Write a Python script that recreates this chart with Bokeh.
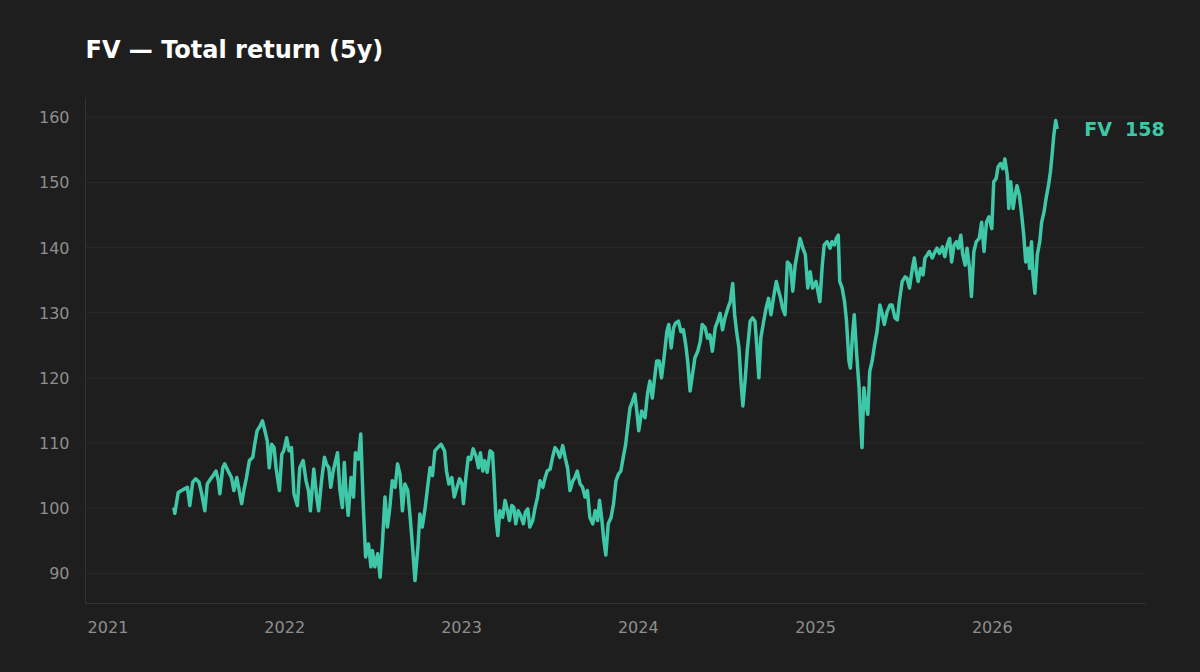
import pandas as pd
from bokeh.plotting import figure
from bokeh.models import Range1d, FixedTicker, DatetimeTickFormatter, Label, ColumnDataSource
from bokeh.embed import file_html
from bokeh.resources import INLINE

series_name = "FV"
title_text = "FV — Total return (5y)"

dates = [
    "2021-05-17", "2021-05-19", "2021-05-26", "2021-06-02", "2021-06-09", "2021-06-14", "2021-06-19", "2021-06-25",
    "2021-07-01", "2021-07-08", "2021-07-13", "2021-07-20", "2021-07-25", "2021-08-01", "2021-08-06", "2021-08-12",
    "2021-08-17", "2021-08-20", "2021-08-26", "2021-08-30", "2021-09-06", "2021-09-13", "2021-09-18", "2021-09-24",
    "2021-09-29", "2021-10-04", "2021-10-09", "2021-10-14", "2021-10-20", "2021-10-27", "2021-10-31", "2021-11-05",
    "2021-11-11", "2021-11-16", "2021-11-21", "2021-11-26", "2021-11-30", "2021-12-05", "2021-12-10", "2021-12-14",
    "2021-12-21", "2021-12-26", "2021-12-30",
    "2022-01-05", "2022-01-10", "2022-01-15", "2022-01-20", "2022-01-27", "2022-02-01", "2022-02-08", "2022-02-14",
    "2022-02-19", "2022-02-23", "2022-03-02", "2022-03-08", "2022-03-12", "2022-03-18", "2022-03-24", "2022-03-28",
    "2022-04-02", "2022-04-06", "2022-04-11", "2022-04-16", "2022-04-20", "2022-04-25", "2022-04-30", "2022-05-04",
    "2022-05-07", "2022-05-12", "2022-05-18", "2022-05-23", "2022-05-27", "2022-06-02", "2022-06-07", "2022-06-12",
    "2022-06-17", "2022-06-23", "2022-06-28", "2022-07-01", "2022-07-06", "2022-07-12", "2022-07-17", "2022-07-22",
    "2022-07-27", "2022-08-01", "2022-08-06", "2022-08-11", "2022-08-17", "2022-08-22", "2022-08-27", "2022-09-01",
    "2022-09-06", "2022-09-12", "2022-09-17", "2022-09-22", "2022-09-27", "2022-10-03", "2022-10-07", "2022-10-12",
    "2022-10-18", "2022-10-23", "2022-10-28", "2022-11-02", "2022-11-07", "2022-11-13", "2022-11-20", "2022-11-27",
    "2022-12-01", "2022-12-06", "2022-12-12", "2022-12-17", "2022-12-28",
    "2023-01-02", "2023-01-05", "2023-01-10", "2023-01-15", "2023-01-20", "2023-01-25", "2023-01-31", "2023-02-05",
    "2023-02-09", "2023-02-14", "2023-02-18", "2023-02-23", "2023-03-01", "2023-03-06", "2023-03-09", "2023-03-13",
    "2023-03-17", "2023-03-21", "2023-03-27", "2023-04-01", "2023-04-06", "2023-04-10", "2023-04-15", "2023-04-19",
    "2023-04-23", "2023-04-28", "2023-05-03", "2023-05-09", "2023-05-13", "2023-05-18", "2023-05-22", "2023-05-28",
    "2023-06-02", "2023-06-07", "2023-06-12", "2023-06-18", "2023-06-22", "2023-06-27", "2023-07-03", "2023-07-08",
    "2023-07-13", "2023-07-18", "2023-07-23", "2023-07-29", "2023-08-03", "2023-08-08", "2023-08-13", "2023-08-19",
    "2023-08-23", "2023-08-28", "2023-09-03", "2023-09-08", "2023-09-13", "2023-09-18", "2023-09-23", "2023-09-29",
    "2023-10-04", "2023-10-09", "2023-10-13", "2023-10-18", "2023-10-22", "2023-10-26", "2023-10-31", "2023-11-06",
    "2023-11-11", "2023-11-16", "2023-11-21", "2023-11-26", "2023-12-01", "2023-12-06", "2023-12-10", "2023-12-15",
    "2023-12-20", "2023-12-25", "2023-12-29",
    "2024-01-02", "2024-01-08", "2024-01-15", "2024-01-20", "2024-01-25", "2024-01-30", "2024-02-03", "2024-02-08",
    "2024-02-13", "2024-02-18", "2024-02-24", "2024-02-29", "2024-03-04", "2024-03-09", "2024-03-14", "2024-03-18",
    "2024-03-24", "2024-03-29", "2024-04-03", "2024-04-08", "2024-04-12", "2024-04-17", "2024-04-22", "2024-04-27",
    "2024-05-03", "2024-05-08", "2024-05-12", "2024-05-18", "2024-05-23", "2024-05-28", "2024-06-02", "2024-06-08",
    "2024-06-13", "2024-06-18", "2024-06-23", "2024-06-28", "2024-07-04", "2024-07-09", "2024-07-14", "2024-07-18",
    "2024-07-22", "2024-07-27", "2024-07-31", "2024-08-04", "2024-08-09", "2024-08-13", "2024-08-17", "2024-08-19",
    "2024-08-24", "2024-08-29", "2024-09-02", "2024-09-06", "2024-09-10", "2024-09-16", "2024-09-21", "2024-09-26",
    "2024-10-01", "2024-10-06", "2024-10-12", "2024-10-17", "2024-10-21", "2024-10-25", "2024-10-30", "2024-11-04",
    "2024-11-10", "2024-11-15", "2024-11-20", "2024-11-25", "2024-11-30", "2024-12-06", "2024-12-11", "2024-12-16",
    "2024-12-21", "2024-12-26",
    "2025-01-02", "2025-01-06", "2025-01-10", "2025-01-15", "2025-01-19", "2025-01-25", "2025-01-31", "2025-02-04",
    "2025-02-09", "2025-02-13", "2025-02-17", "2025-02-20", "2025-02-25", "2025-03-02", "2025-03-06", "2025-03-11",
    "2025-03-14", "2025-03-18", "2025-03-22", "2025-03-27", "2025-04-01", "2025-04-04", "2025-04-07", "2025-04-11",
    "2025-04-14", "2025-04-19", "2025-04-23", "2025-04-28", "2025-05-03", "2025-05-08", "2025-05-14", "2025-05-19",
    "2025-05-23", "2025-05-29", "2025-06-04", "2025-06-08", "2025-06-14", "2025-06-19", "2025-06-23", "2025-06-29",
    "2025-07-05", "2025-07-09", "2025-07-14", "2025-07-20", "2025-07-24", "2025-07-28", "2025-08-01", "2025-08-06",
    "2025-08-11", "2025-08-15", "2025-08-20", "2025-08-24", "2025-08-30", "2025-09-05", "2025-09-09", "2025-09-14",
    "2025-09-20", "2025-09-25", "2025-09-30", "2025-10-05", "2025-10-09", "2025-10-14", "2025-10-19", "2025-10-23",
    "2025-10-28", "2025-11-01", "2025-11-06", "2025-11-10", "2025-11-15", "2025-11-19", "2025-11-24", "2025-11-29",
    "2025-12-05", "2025-12-10", "2025-12-15", "2025-12-20", "2025-12-25", "2025-12-31",
    "2026-01-04", "2026-01-09", "2026-01-13", "2026-01-18", "2026-01-23", "2026-01-27", "2026-02-01", "2026-02-04",
    "2026-02-08", "2026-02-13", "2026-02-17", "2026-02-21", "2026-02-26", "2026-03-02", "2026-03-07", "2026-03-11",
    "2026-03-16", "2026-03-19", "2026-03-23", "2026-03-26", "2026-03-30", "2026-04-04", "2026-04-09", "2026-04-13",
    "2026-04-18", "2026-04-22", "2026-04-27", "2026-05-01", "2026-05-05", "2026-05-08", "2026-05-12", "2026-05-15",
]

fv_values = [
    100.1, 99.2, 102.4, 102.7, 103.0, 103.2, 100.4, 104.0,
    104.5, 104.0, 102.4, 99.6, 103.7, 104.5, 105.0, 105.7,
    104.2, 102.2, 106.2, 106.8, 105.7, 104.7, 102.7, 104.7,
    102.7, 100.7, 102.9, 104.7, 107.3, 107.8, 109.8, 111.9,
    112.6, 113.4, 111.9, 110.3, 106.2, 109.8, 109.3, 106.2,
    102.7, 108.3, 108.8,
    110.8, 108.8, 109.3, 102.2, 100.4, 106.2, 107.3, 104.2,
    102.7, 99.6, 106.0, 101.7, 99.6, 104.2, 107.8, 106.8,
    106.2, 103.2, 105.7, 107.3, 108.5, 102.7, 100.1, 107.0,
    103.2, 98.9, 104.7, 101.7, 108.5, 107.5, 111.4, 100.7,
    92.5, 94.5, 91.0, 93.5, 91.0, 93.0, 89.4, 95.0,
    101.7, 97.1, 100.1, 104.2, 103.2, 106.8, 105.2, 99.6,
    103.7, 102.7, 98.6, 94.0, 88.9, 94.0, 99.1, 97.1,
    100.1, 103.2, 106.2, 105.0, 108.8, 109.3, 109.8, 108.8,
    105.7, 103.7, 104.7, 101.7, 104.5,
    103.7, 100.7, 104.7, 107.8, 107.5, 109.1, 108.0, 106.2,
    108.5, 105.7, 107.3, 105.5, 108.8, 108.5, 104.7, 98.6,
    95.8, 99.6, 98.6, 101.2, 99.6, 98.1, 100.4, 100.1,
    97.6, 99.6, 98.9, 97.6, 99.4, 99.9, 97.1, 98.1,
    100.1, 101.7, 104.2, 103.2, 104.5, 105.7, 106.0, 107.8,
    109.3, 108.8, 107.8, 109.6, 107.8, 106.2, 102.7, 104.2,
    104.7, 105.7, 103.7, 103.2, 101.7, 102.7, 98.6, 97.6,
    99.6, 98.1, 101.2, 98.1, 95.0, 92.8, 97.6, 98.6,
    100.7, 104.2, 105.2, 105.7, 107.8, 109.8, 112.4, 115.4,
    116.4, 117.5, 114.9,
    111.9, 114.9, 113.9, 117.5, 119.5, 116.9, 119.5, 122.6,
    122.6, 120.0, 123.6, 127.1, 128.2, 124.6, 127.7, 128.4,
    128.7, 127.1, 127.4, 125.1, 122.6, 118.0, 120.5, 123.1,
    124.1, 125.6, 128.2, 127.7, 126.1, 126.6, 124.1, 127.7,
    128.7, 129.9, 127.4, 129.2, 130.7, 131.7, 134.5, 129.7,
    127.1, 124.6, 119.5, 115.7, 120.0, 124.1, 127.1, 128.7,
    129.2, 128.7, 124.6, 120.0, 126.1, 128.7, 130.7, 132.2,
    129.7, 132.2, 134.8, 133.3, 132.2, 130.7, 129.7, 137.8,
    137.3, 133.3, 137.3, 139.4, 141.4, 139.9, 138.9, 133.8,
    136.3, 133.8,
    134.8, 133.3, 131.7, 137.3, 140.4, 140.9, 139.9, 140.9,
    140.4, 141.4, 141.9, 134.8, 133.8, 131.7, 128.7, 122.6,
    121.5, 126.1, 129.7, 123.6, 118.5, 113.4, 109.3, 118.5,
    116.4, 114.4, 121.0, 122.6, 125.1, 127.1, 131.2, 129.7,
    128.2, 130.2, 131.2, 131.2, 129.2, 128.9, 131.7, 134.8,
    135.5, 135.3, 133.8, 136.8, 138.4, 136.3, 134.8, 136.8,
    135.8, 138.4, 138.9, 139.4, 138.4, 139.4, 139.9, 139.1,
    140.1, 138.6, 140.4, 141.4, 137.8, 140.4, 140.9, 139.9,
    141.9, 138.9, 137.3, 139.9, 136.8, 132.5, 139.4, 140.9,
    141.4, 143.9, 139.4, 143.9, 144.7, 142.9,
    150.1, 150.6, 152.4, 152.9, 152.1, 153.6, 151.1, 146.0,
    150.1, 146.0, 148.0, 149.5, 148.0, 145.5, 141.9, 137.8,
    139.9, 136.8, 140.9, 135.8, 133.0, 138.9, 140.9, 143.9,
    145.5, 147.5, 149.5, 151.6, 154.6, 157.2, 159.5, 158.2,
]

y_ticks = [90, 100, 110, 120, 130, 140, 150, 160]
x_tick_dates = ["2021-01-01", "2022-01-01", "2023-01-01", "2024-01-01", "2025-01-01", "2026-01-01"]

BG = "#1e1e1e"
LINE = "#3fc8a8"
GRID = "#2a2a2a"
AXIS = "#333333"
TICK_TEXT = "#8f8f8f"
FONT = "DejaVu Sans"

# layout (canvas pixels)
W, H = 1200, 672
FRAME_L, FRAME_T, FRAME_B = 85, 97, 603
AXIS_R = 1145        # where the axis line and grid lines end
FRAME_R = 1192       # frame extends further so the end label is not clipped

t = pd.to_datetime(dates)
ms = [d.timestamp() * 1000 for d in t]
src = ColumnDataSource(dict(date=ms, value=fv_values))

span = ms[-1] - ms[0]
x_start = ms[0] - 0.1 * span
x_axis_end = ms[-1] + 0.1 * span
x_end = x_start + (x_axis_end - x_start) * (FRAME_R - FRAME_L) / (AXIS_R - FRAME_L)

vmin, vmax = min(fv_values), max(fv_values)
vspan = vmax - vmin

p = figure(
    width=W, height=H,
    x_axis_type="datetime",
    output_backend="svg", toolbar_location=None,
    x_range=Range1d(x_start, x_end),
    y_range=Range1d(vmin - 0.05 * vspan, vmax + 0.05 * vspan),
    min_border_left=FRAME_L, min_border_right=W - FRAME_R,
    min_border_top=FRAME_T, min_border_bottom=H - FRAME_B,
    background_fill_color=BG, border_fill_color=BG,
)
p.outline_line_color = None

p.title.text = title_text
p.title.text_color = "#ffffff"
p.title.text_font = FONT
p.title.text_font_size = "24px"
p.title.text_font_style = "bold"
p.title.align = "left"
p.title.vertical_align = "middle"
p.title.offset = 0
p.title.standoff = 66

# horizontal grid lines, ending where the axis ends
n = len(y_ticks)
p.segment(x0=[x_start] * n, x1=[x_axis_end] * n, y0=y_ticks, y1=y_ticks,
          line_color=GRID, line_width=1, level="underlay")
p.xgrid.grid_line_color = None
p.ygrid.grid_line_color = None

p.line("date", "value", source=src, line_color=LINE, line_width=3.5, line_join="round")

p.yaxis.ticker = FixedTicker(ticks=y_ticks)
p.xaxis.ticker = FixedTicker(ticks=[pd.Timestamp(d).timestamp() * 1000 for d in x_tick_dates])
p.xaxis.formatter = DatetimeTickFormatter(
    years="%Y", months="%Y", days="%Y", hours="%Y", hourmin="%Y", minutes="%Y",
    minsec="%Y", seconds="%Y", milliseconds="%Y", microseconds="%Y",
)
p.xaxis.bounds = (x_start, x_axis_end)
for ax in (p.xaxis, p.yaxis):
    ax.axis_line_color = AXIS
    ax.major_tick_line_color = None
    ax.minor_tick_line_color = None
    ax.major_tick_out = 0
    ax.major_tick_in = 0
    ax.minor_tick_out = 0
    ax.major_label_text_color = TICK_TEXT
    ax.major_label_text_font = FONT
    ax.major_label_text_font_size = "16px"
p.yaxis.major_label_standoff = 16
p.xaxis.major_label_standoff = 17

end_label = Label(
    x=ms[-1], y=fv_values[-1], text=f"{series_name}\u00a0 {fv_values[-1]:.0f}",
    x_offset=27, text_baseline="middle", text_align="left",
    text_color=LINE, text_font=FONT, text_font_size="19px", text_font_style="bold",
)
p.add_layout(end_label)

html = file_html(p, INLINE)
html = html.replace("</head>", "<style>html, body { background: #1e1e1e; }</style></head>", 1)
open("out.html", "w").write(html)
